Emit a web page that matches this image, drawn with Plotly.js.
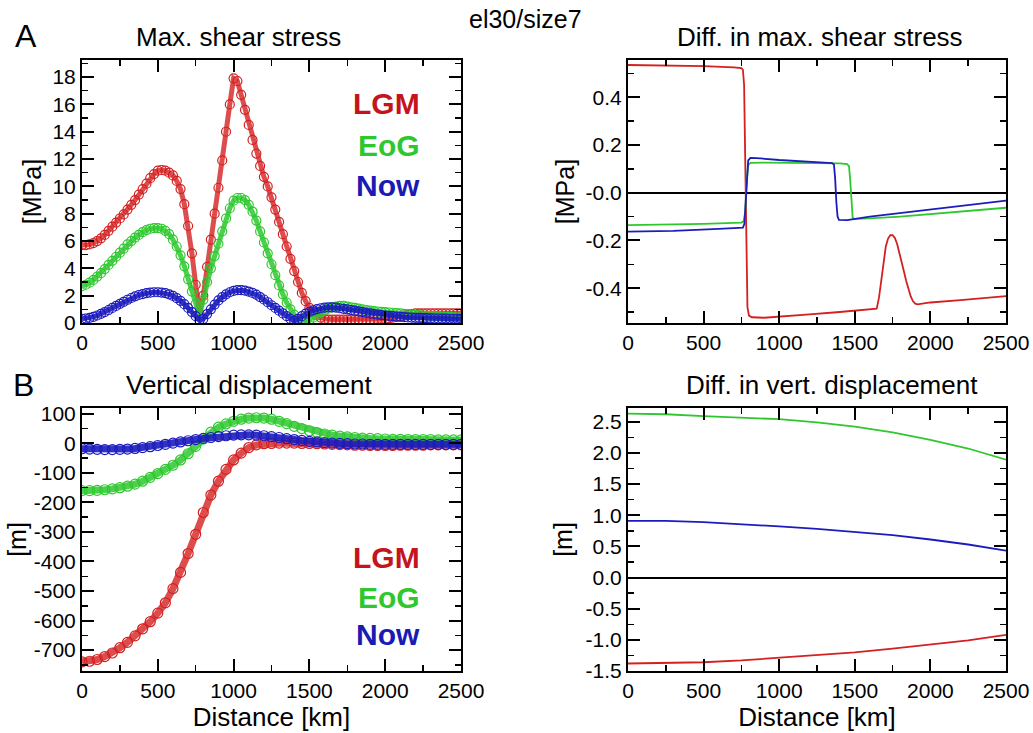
<!DOCTYPE html>
<html>
<head>
<meta charset="utf-8">
<script src="https://cdn.plot.ly/plotly-3.0.1.min.js"></script>
<style>html,body{margin:0;padding:0;background:#fff;}#chart{width:1033px;height:733px;}</style>
</head>
<body>
<div id="chart"></div>
<script>
// ---------- Panel A left: Max. shear stress [MPa], 25 km sampling ----------
const distA = [
  0,25,50,75,100,125,150,175,200,225,
  250,275,300,325,350,375,400,425,450,475,
  500,525,550,575,600,625,650,675,700,725,
  750,775,800,825,850,875,900,925,950,975,
  1000,1025,1050,1075,1100,1125,1150,1175,1200,1225,
  1250,1275,1300,1325,1350,1375,1400,1425,1450,1475,
  1500,1525,1550,1575,1600,1625,1650,1675,1700,1725,
  1750,1775,1800,1825,1850,1875,1900,1925,1950,1975,
  2000,2025,2050,2075,2100,2125,2150,2175,2200,2225,
  2250,2275,2300,2325,2350,2375,2400,2425,2450,2475,
  2500];
const shearLGM = [
  5.7,5.7,5.75,5.85,6.0,6.2,6.45,6.75,7.05,7.35,
  7.65,7.95,8.3,8.65,9.0,9.4,9.8,10.2,10.6,10.9,
  11.15,11.2,11.15,11.0,10.8,10.4,9.8,8.7,7.1,5.1,
  2.8,0.7,2.0,4.1,6.1,8.0,9.9,11.9,14.0,16.0,
  17.9,17.7,16.7,15.6,14.5,13.4,12.4,11.5,10.7,10.0,
  9.2,8.3,7.4,6.5,5.6,4.7,3.8,3.0,2.2,1.6,
  1.1,0.8,0.55,0.4,0.3,0.25,0.25,0.25,0.25,0.25,
  0.25,0.25,0.25,0.25,0.25,0.25,0.25,0.25,0.3,0.3,
  0.3,0.35,0.4,0.45,0.5,0.55,0.6,0.65,0.7,0.7,
  0.7,0.7,0.7,0.7,0.7,0.7,0.7,0.7,0.7,0.7,
  0.7];
const shearEoG = [
  2.7,2.8,2.95,3.15,3.4,3.65,3.95,4.25,4.55,4.85,
  5.15,5.45,5.75,6.0,6.25,6.45,6.65,6.8,6.9,6.95,
  6.95,6.9,6.75,6.5,6.1,5.6,4.95,4.15,3.2,2.3,
  1.4,0.55,1.7,3.0,4.0,4.9,5.8,6.7,7.65,8.4,
  8.95,9.15,9.15,9.0,8.65,8.15,7.5,6.7,5.9,5.1,
  4.3,3.5,2.75,2.1,1.5,1.0,0.6,0.3,0.12,0.05,
  0.2,0.4,0.6,0.8,0.95,1.05,1.15,1.2,1.25,1.25,
  1.2,1.15,1.1,1.05,1.0,0.95,0.9,0.87,0.84,0.82,
  0.8,0.77,0.75,0.72,0.7,0.67,0.65,0.62,0.6,0.58,
  0.55,0.53,0.5,0.5,0.48,0.47,0.45,0.45,0.43,0.42,
  0.4];
const shearNow = [
  0.3,0.33,0.38,0.45,0.55,0.67,0.8,0.95,1.1,1.25,
  1.4,1.55,1.7,1.83,1.95,2.05,2.12,2.18,2.22,2.25,
  2.25,2.23,2.18,2.1,1.98,1.82,1.62,1.38,1.1,0.8,
  0.5,0.2,0.3,0.65,1.0,1.35,1.65,1.9,2.1,2.25,
  2.35,2.4,2.4,2.37,2.3,2.2,2.07,1.9,1.72,1.52,
  1.3,1.1,0.9,0.7,0.5,0.3,0.15,0.3,0.5,0.68,
  0.82,0.93,1.02,1.08,1.12,1.14,1.14,1.12,1.08,1.04,
  1.0,0.95,0.9,0.85,0.8,0.75,0.7,0.66,0.62,0.58,
  0.55,0.52,0.5,0.47,0.45,0.43,0.41,0.4,0.38,0.37,
  0.36,0.35,0.34,0.33,0.33,0.32,0.32,0.31,0.31,0.3,
  0.3];

// ---------- Panel A right: Diff. in max. shear stress [MPa] ----------
const dShearLGM_x = [0,250,500,700,750,760,768,775,782,790,800,820,900,1000,1200,1400,1600,1645,1660,1675,1690,1705,1720,1735,1750,1765,1780,1795,1810,1825,1840,1855,1870,1885,1900,1915,1950,2000,2200,2500];
const dShearLGM   = [0.535,0.533,0.53,0.525,0.522,0.515,0.45,0.15,-0.25,-0.48,-0.515,-0.522,-0.524,-0.52,-0.51,-0.5,-0.49,-0.486,-0.44,-0.36,-0.28,-0.225,-0.192,-0.178,-0.178,-0.19,-0.215,-0.25,-0.29,-0.33,-0.37,-0.405,-0.435,-0.455,-0.465,-0.468,-0.465,-0.46,-0.45,-0.433];
const dShearEoG_x = [0,250,500,750,765,775,785,795,810,900,1000,1200,1400,1450,1462,1470,1478,1486,1500,1600,1800,2000,2200,2500];
const dShearEoG   = [-0.136,-0.134,-0.131,-0.125,-0.12,-0.08,0.05,0.115,0.125,0.126,0.126,0.125,0.123,0.12,0.11,0.05,-0.06,-0.105,-0.11,-0.108,-0.1,-0.09,-0.08,-0.063];
const dShearNow_x = [0,300,600,760,770,778,786,795,810,850,1000,1200,1350,1362,1370,1378,1386,1395,1450,1600,1800,2000,2200,2500];
const dShearNow   = [-0.163,-0.16,-0.152,-0.146,-0.13,-0.04,0.08,0.135,0.146,0.145,0.137,0.13,0.124,0.118,0.06,-0.04,-0.1,-0.114,-0.115,-0.1,-0.085,-0.07,-0.055,-0.033];

// ---------- Panel B left: Vertical displacement [m], 50 km sampling ----------
const distB = [
  0,50,100,150,200,250,300,350,400,450,
  500,550,600,650,700,750,800,850,900,950,
  1000,1050,1100,1150,1200,1250,1300,1350,1400,1450,
  1500,1550,1600,1650,1700,1750,1800,1850,1900,1950,
  2000,2050,2100,2150,2200,2250,2300,2350,2400,2450,
  2500];
const vertLGM = [
  -740,-738,-732,-722,-710,-692,-674,-652,-628,-604,
  -575,-540,-492,-437,-373,-308,-234,-175,-128,-88,
  -56,-33,-14,-5,-1,0,1,1,1,0,
  0,-1,-2,-3,-4,-5,-6,-6,-7,-7,
  -7,-7,-6,-6,-6,-6,-5,-5,-5,-5,
  -5];
const vertEoG = [
  -160,-160,-159,-157,-154,-150,-145,-138,-128,-115,
  -102,-88,-74,-56,-35,-10,15,38,55,66,
  75,82,86,87,86,82,75,67,58,50,
  43,37,32,28,25,22,20,18,17,16,
  15,14,14,13,13,13,13,12,12,12,
  12];
const vertNow = [
  -18,-19,-20,-21,-21,-20,-19,-17,-14,-11,
  -7,-3,1,5,9,13,17,20,23,26,
  28,29,29,28,26,23,20,16,13,10,
  7,5,3,1,0,-1,-2,-2,-3,-3,
  -3,-3,-3,-3,-3,-3,-3,-3,-3,-3,
  -3];

// ---------- Panel B right: Diff. in vert. displacement [m] ----------
const distD = [0,250,500,750,1000,1250,1500,1750,2000,2250,2500];
const dVertLGM = [-1.38,-1.37,-1.36,-1.33,-1.29,-1.25,-1.2,-1.14,-1.08,-1.01,-0.92];
const dVertEoG = [2.63,2.62,2.59,2.57,2.54,2.49,2.42,2.33,2.21,2.07,1.89];
const dVertNow = [0.91,0.91,0.89,0.86,0.82,0.78,0.73,0.68,0.61,0.53,0.43];

// ---------- tick labels ----------
const xTicks = [0,500,1000,1500,2000,2500];
const xTickText = ['0','500','1000','1500','2000','2500'];
const yTicksA = [0,2,4,6,8,10,12,14,16,18];
const yTicksA2 = [-0.4,-0.2,0,0.2,0.4];
const yTickTextA2 = ['-0.4','-0.2','-0.0','0.2','0.4'];
const yTicksB = [-700,-600,-500,-400,-300,-200,-100,0,100];
const yTickTextB = ['-700','-600','-500','-400','-300','-200','-100','0','100'];
const yTicksB2 = [-1.5,-1,-0.5,0,0.5,1,1.5,2,2.5];
const yTickTextB2 = ['-1.5','-1.0','-0.5','0.0','0.5','1.0','1.5','2.0','2.5'];

const seriesNames = ['LGM','EoG','Now'];
const lineColors = {LGM:'#d42020', EoG:'#2ec82e', Now:'#1c1cbe'};
const bandColors = {LGM:'rgba(212,32,32,0.8)', EoG:'rgba(46,200,46,0.85)', Now:'rgba(28,28,190,0.9)'};
const textColors = {LGM:'#c4141c', EoG:'#2ec82e', Now:'#1a1ab4'};

const FONT = 'Liberation Sans, Arial, Helvetica, sans-serif';
const TICKSIZE = 21;

function bandTrace(x, y, name, xa, ya, msize, lw) {
  return {x, y, name, xaxis: xa, yaxis: ya, type: 'scatter', mode: 'lines+markers',
    line: {color: bandColors[name], width: lw},
    marker: {symbol: 'circle-open', size: msize, color: lineColors[name], line: {width: 1.2, color: lineColors[name]}},
    showlegend: false, hoverinfo: 'skip'};
}
function lineTrace(x, y, name, xa, ya) {
  return {x, y, name, xaxis: xa, yaxis: ya, type: 'scatter', mode: 'lines',
    line: {color: lineColors[name], width: 1.8}, showlegend: false, hoverinfo: 'skip'};
}

const data = [
  bandTrace(distA, shearLGM, 'LGM', 'x', 'y', 9, 5),
  bandTrace(distA, shearEoG, 'EoG', 'x', 'y', 9, 5),
  bandTrace(distA, shearNow, 'Now', 'x', 'y', 9, 5),
  lineTrace(dShearLGM_x, dShearLGM, 'LGM', 'x2', 'y2'),
  lineTrace(dShearEoG_x, dShearEoG, 'EoG', 'x2', 'y2'),
  lineTrace(dShearNow_x, dShearNow, 'Now', 'x2', 'y2'),
  bandTrace(distB, vertLGM, 'LGM', 'x3', 'y3', 10, 7),
  bandTrace(distB, vertEoG, 'EoG', 'x3', 'y3', 10, 7),
  bandTrace(distB, vertNow, 'Now', 'x3', 'y3', 10, 7),
  lineTrace(distD, dVertLGM, 'LGM', 'x4', 'y4'),
  lineTrace(distD, dVertEoG, 'EoG', 'x4', 'y4'),
  lineTrace(distD, dVertNow, 'Now', 'x4', 'y4')
];

const W = 1033, H = 733;
const px = v => v / W;
const py = v => 1 - v / H;

function xAxis(domain, anchor, withTitle) {
  const a = {domain, anchor, range: [0, 2500], tickvals: xTicks, ticktext: xTickText,
    ticks: 'inside', ticklen: 12, tickwidth: 2, tickcolor: '#000',
    minor: {dtick: 250, ticks: 'inside', ticklen: 6, tickwidth: 1.5, tickcolor: '#000'},
    showline: true, linewidth: 2, linecolor: '#000', mirror: 'ticks',
    showgrid: false, zeroline: false, tickfont: {family: FONT, size: TICKSIZE, color: '#000'}};
  if (withTitle) a.title = {text: 'Distance [km]', font: {family: FONT, size: 26, color: '#000'}, standoff: 2};
  return a;
}
function yAxis(domain, anchor, opts) {
  return Object.assign({domain, anchor,
    ticks: 'inside', ticklen: 12, tickwidth: 2, tickcolor: '#000',
    showline: true, linewidth: 2, linecolor: '#000', mirror: 'ticks',
    showgrid: false, tickfont: {family: FONT, size: TICKSIZE, color: '#000'}}, opts);
}

const domXL = [px(82), px(461)], domXR = [px(628), px(1006)];
const domYT = [py(323), py(60)], domYB = [py(671), py(408)];

const layout = {
  width: W, height: H, margin: {l: 0, r: 0, t: 0, b: 0},
  paper_bgcolor: '#fff', plot_bgcolor: '#fff', showlegend: false,
  font: {family: FONT, color: '#000'},
  xaxis: xAxis(domXL, 'y', false),
  xaxis2: xAxis(domXR, 'y2', false),
  xaxis3: xAxis(domXL, 'y3', true),
  xaxis4: xAxis(domXR, 'y4', true),
  yaxis: yAxis(domYT, 'x', {range: [0, 19.25], tickvals: yTicksA,
    minor: {dtick: 1, ticks: 'inside', ticklen: 6, tickwidth: 1.5, tickcolor: '#000'},
    zeroline: false, title: {text: '[MPa]', font: {size: 25, color: '#000'}, standoff: 4}}),
  yaxis2: yAxis(domYT, 'x2', {range: [-0.546, 0.556], tickvals: yTicksA2, ticktext: yTickTextA2,
    minor: {tickvals: [-0.5,-0.3,-0.1,0.1,0.3,0.5], ticks: 'inside', ticklen: 6, tickwidth: 1.5, tickcolor: '#000'},
    zeroline: true, zerolinecolor: '#000', zerolinewidth: 2,
    title: {text: '[MPa]', font: {size: 25, color: '#000'}, standoff: 4}}),
  yaxis3: yAxis(domYB, 'x3', {range: [-771, 120], tickvals: yTicksB, ticktext: yTickTextB,
    minor: {dtick: 50, ticks: 'inside', ticklen: 6, tickwidth: 1.5, tickcolor: '#000'},
    zeroline: false, title: {text: '[m]', font: {size: 25, color: '#000'}, standoff: 0}}),
  yaxis4: yAxis(domYB, 'x4', {range: [-1.5, 2.72], tickvals: yTicksB2, ticktext: yTickTextB2,
    minor: {dtick: 0.25, ticks: 'inside', ticklen: 6, tickwidth: 1.5, tickcolor: '#000'},
    zeroline: true, zerolinecolor: '#000', zerolinewidth: 2,
    title: {text: '[m]', font: {size: 25, color: '#000'}, standoff: 6}}),
  annotations: []
};

const ann = layout.annotations;
function addText(text, x, y, size, opts) {
  ann.push(Object.assign({text, x: px(x), y: py(y), xref: 'paper', yref: 'paper',
    showarrow: false, xanchor: 'center', yanchor: 'middle',
    font: {family: FONT, size, color: '#000'}}, opts || {}));
}
addText('el30/size7', 525, 19, 25);
addText('A', 26, 36, 32);
addText('B', 23, 385, 32);
addText('Max. shear stress', 238, 37, 26);
addText('Diff. in max. shear stress', 820, 37, 26);
addText('Vertical displacement', 249, 385, 26);
addText('Diff. in vert. displacement', 832, 385, 26);

const legendYTop = [103, 145, 186];
const legendYBot = [557, 597, 634];
seriesNames.forEach((s, i) => {
  addText('<b>' + s + '</b>', 422, legendYTop[i], 30, {xanchor: 'right', font: {family: FONT, size: 30, color: textColors[s]}});
  addText('<b>' + s + '</b>', 422, legendYBot[i], 30, {xanchor: 'right', font: {family: FONT, size: 30, color: textColors[s]}});
});

Plotly.newPlot('chart', data, layout, {staticPlot: true, displayModeBar: false});
</script>
</body>
</html>
